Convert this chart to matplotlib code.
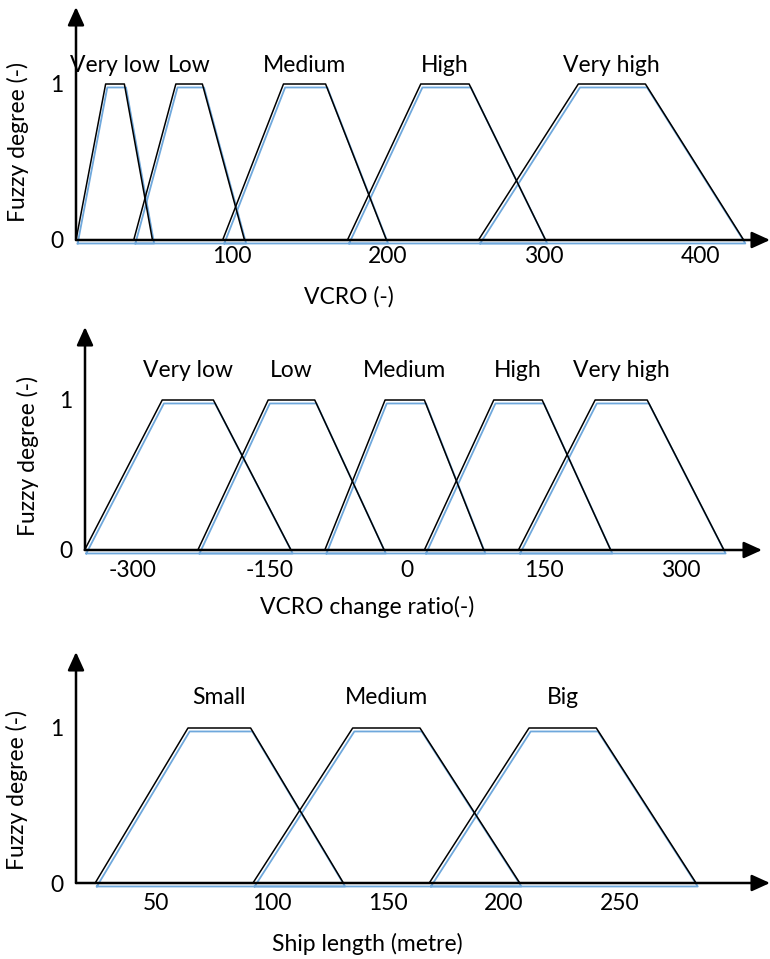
import matplotlib
matplotlib.use("Agg")
import matplotlib.pyplot as plt
import matplotlib.transforms as mtransforms

# ---- data: trapezoid membership functions (base left, top left, top right, base right)
vcro_names = ["Very low", "Low", "Medium", "High", "Very high"]
vcro_sets = [(0, 19, 31, 49), (37, 64, 81, 108), (94, 133, 160, 199),
             (174, 221, 252, 301), (258, 322, 365, 428)]
vcro_ticks = [100, 200, 300, 400]

change_names = ["Very low", "Low", "Medium", "High", "Very high"]
change_sets = [(-353, -268, -212, -127), (-229, -152, -101, -25), (-90, -24, 19, 84),
               (19, 95, 148, 223), (122, 206, 263, 347)]
change_ticks = [-300, -150, 0, 150, 300]

ship_names = ["Small", "Medium", "Big"]
ship_sets = [(24, 64, 91, 131), (92, 135, 164, 207), (168, 211, 240, 283)]
ship_ticks = [50, 100, 150, 200, 250]

W, H = 770, 959
FONT = "Lato"
FS = 16.5
BLUE = "#6fa8dc"

plt.rcParams['font.family'] = [FONT, 'DejaVu Sans']

fig = plt.figure(figsize=(W / 100, H / 100), dpi=100)


def make_panel(left, right, bottom, top, x0, x1):
    """axes spanning pixel box; x0/x1 are the data values at the box edges"""
    ax = fig.add_axes([left / W, 1 - bottom / H, (right - left) / W, (bottom - top) / H])
    ax.set_xlim(x0, x1)
    return ax


def draw_panel(ax, names, sets, ticks, ytop, label_y, xpad, xlabel, xl_pos):
    ax.set_ylim(0, ytop)
    for s in ax.spines.values():
        s.set_visible(False)
    shadow = mtransforms.offset_copy(ax.transData, fig=fig, x=1.2, y=-2.5, units='points')
    for name, (a, b, c, d) in zip(names, sets):
        xs = [a, b, c, d, a]
        ys = [0, 1, 1, 0, 0]
        ax.plot(xs, ys, color=BLUE, lw=1.3, transform=shadow, clip_on=False, zorder=2)
        ax.plot(xs, ys, color="black", lw=1.1, clip_on=False, zorder=3)
        ax.text((b + c) / 2, label_y, name, ha="center", va="center", fontsize=FS)
    # axes with arrows
    arrow = dict(arrowstyle="-|>,head_length=0.55,head_width=0.25", color="black",
                 lw=1.8, mutation_scale=20, shrinkA=0, shrinkB=0)
    ax.annotate("", xy=(1, 0), xytext=(0, 0), xycoords="axes fraction",
                arrowprops=arrow, zorder=4)
    ax.annotate("", xy=(0, 1), xytext=(0, 0), xycoords="axes fraction",
                arrowprops=arrow, zorder=4)
    ax.set_xticks(ticks)
    ax.set_xticklabels([str(t) for t in ticks])
    ax.set_yticks([0, 1])
    ax.set_yticklabels(["0", "1"])
    ax.tick_params(axis="x", length=0, pad=xpad, labelsize=FS)
    ax.tick_params(axis="y", length=0, pad=9, labelsize=FS)
    ax.patch.set_alpha(0)
    fig.text(xl_pos[0] / W, 1 - xl_pos[1] / H, xlabel, ha="center", va="center", fontsize=FS)


# panel 1: VCRO
ax1 = make_panel(76, 770, 240, 7, 0, 694 / 1.56)
draw_panel(ax1, vcro_names, vcro_sets, vcro_ticks, 233 / 156, 175 / 156, 4,
           "VCRO (-)", (349, 297))
fig.text(18 / W, 1 - 142 / H, "Fuzzy degree (-)", rotation=90, ha="center", va="center", fontsize=FS)

# panel 2: VCRO change ratio
s2 = 548 / 600
ax2 = make_panel(85, 762, 550, 327, (85 - 407) / s2, (762 - 407) / s2)
draw_panel(ax2, change_names, change_sets, change_ticks, 223 / 150, 179 / 150, 7,
           "VCRO change ratio(-)", (367, 607))
fig.text(28 / W, 1 - 456 / H, "Fuzzy degree (-)", rotation=90, ha="center", va="center", fontsize=FS)

# panel 3: ship length
s3 = 2.32
ax3 = make_panel(76, 770, 883, 652, 50 + (76 - 155.5) / s3, 50 + (770 - 155.5) / s3)
draw_panel(ax3, ship_names, ship_sets, ship_ticks, 231 / 155, 186 / 155, 7,
           "Ship length (metre)", (367, 944))
fig.text(17 / W, 1 - 790 / H, "Fuzzy degree (-)", rotation=90, ha="center", va="center", fontsize=FS)

fig.savefig("out.png", dpi=100)
